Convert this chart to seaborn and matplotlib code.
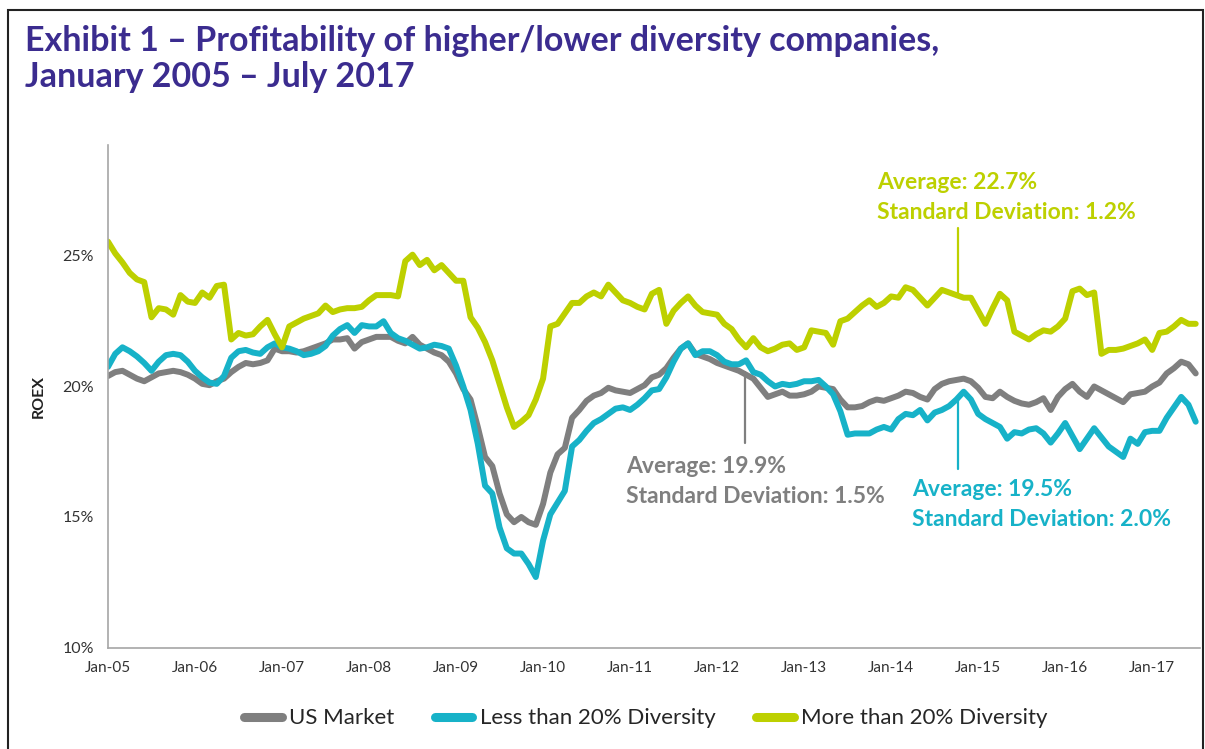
import pandas as pd
import seaborn as sns
import matplotlib.pyplot as plt
from matplotlib.lines import Line2D
from matplotlib.patches import Rectangle

us_market = [
    20.4, 20.55, 20.6, 20.45, 20.3, 20.2, 20.35, 20.5, 20.55, 20.6,
    20.55, 20.45, 20.3, 20.1, 20.05, 20.2, 20.3, 20.55, 20.75, 20.9,
    20.85, 20.9, 21.0, 21.45, 21.35, 21.35, 21.3, 21.35, 21.45, 21.55,
    21.65, 21.8, 21.8, 21.85, 21.45, 21.7, 21.8, 21.9, 21.9, 21.9,
    21.75, 21.65, 21.9, 21.6, 21.45, 21.3, 21.2, 20.95, 20.5, 19.9,
    19.5, 18.45, 17.3, 16.95, 15.9, 15.1, 14.8, 15.0, 14.8, 14.7,
    15.5, 16.7, 17.4, 17.65, 18.8, 19.1, 19.45, 19.65, 19.75, 19.95,
    19.85, 19.8, 19.75, 19.9, 20.05, 20.35, 20.45, 20.7, 21.1, 21.45,
    21.65, 21.25, 21.15, 21.05, 20.9, 20.8, 20.7, 20.6, 20.45, 20.3,
    19.95, 19.6, 19.7, 19.8, 19.65, 19.65, 19.7, 19.8, 20.0, 19.95,
    19.9, 19.5, 19.2, 19.2, 19.25, 19.4, 19.5, 19.45, 19.55, 19.65,
    19.8, 19.75, 19.6, 19.5, 19.9, 20.1, 20.2, 20.25, 20.3, 20.2,
    19.95, 19.6, 19.55, 19.8, 19.6, 19.45, 19.35, 19.3, 19.4, 19.55,
    19.1, 19.6, 19.9, 20.1, 19.8, 19.6, 20.0, 19.85, 19.7, 19.55,
    19.4, 19.7, 19.75, 19.8, 20.0, 20.15, 20.5, 20.7, 20.95, 20.85,
    20.5,
]
less_20 = [
    20.75, 21.25, 21.5, 21.35, 21.15, 20.9, 20.6, 20.95, 21.2, 21.25,
    21.2, 20.95, 20.6, 20.35, 20.15, 20.1, 20.4, 21.1, 21.35, 21.4,
    21.3, 21.25, 21.5, 21.65, 21.5, 21.45, 21.35, 21.2, 21.25, 21.35,
    21.55, 21.95, 22.2, 22.35, 22.05, 22.35, 22.3, 22.3, 22.5, 22.05,
    21.85, 21.75, 21.6, 21.45, 21.5, 21.6, 21.55, 21.45, 20.8, 20.0,
    19.1, 17.8, 16.2, 15.9, 14.6, 13.8, 13.6, 13.6, 13.2, 12.7,
    14.1, 15.1, 15.55, 16.0, 17.7, 17.95, 18.3, 18.6, 18.75, 18.95,
    19.15, 19.2, 19.1, 19.3, 19.55, 19.85, 19.9, 20.35, 20.95, 21.45,
    21.65, 21.2, 21.35, 21.35, 21.2, 20.95, 20.85, 20.85, 21.0, 20.55,
    20.45, 20.2, 20.0, 20.1, 20.05, 20.1, 20.2, 20.2, 20.25, 20.0,
    19.7, 19.05, 18.15, 18.2, 18.2, 18.2, 18.35, 18.45, 18.35, 18.75,
    18.95, 18.9, 19.1, 18.7, 19.0, 19.1, 19.25, 19.5, 19.8, 19.5,
    18.95, 18.75, 18.6, 18.45, 18.0, 18.25, 18.2, 18.35, 18.4, 18.2,
    17.85, 18.2, 18.6, 18.1, 17.6, 18.0, 18.4, 18.05, 17.7, 17.5,
    17.3, 18.0, 17.8, 18.25, 18.3, 18.3, 18.8, 19.2, 19.6, 19.3,
    18.65,
]
more_20 = [
    25.55, 25.1, 24.75, 24.35, 24.1, 24.0, 22.65, 23.0, 22.95, 22.75,
    23.5, 23.25, 23.2, 23.6, 23.4, 23.85, 23.9, 21.8, 22.05, 21.95,
    22.0, 22.3, 22.55, 22.0, 21.5, 22.3, 22.45, 22.6, 22.7, 22.8,
    23.1, 22.85, 22.95, 23.0, 23.0, 23.05, 23.3, 23.5, 23.5, 23.5,
    23.45, 24.8, 25.05, 24.65, 24.85, 24.45, 24.65, 24.35, 24.05, 24.05,
    22.65, 22.25, 21.7, 21.0, 20.1, 19.2, 18.45, 18.65, 18.9, 19.5,
    20.3, 22.3, 22.4, 22.8, 23.2, 23.2, 23.45, 23.6, 23.45, 23.9,
    23.6, 23.3, 23.2, 23.05, 22.95, 23.55, 23.7, 22.4, 22.9, 23.2,
    23.45, 23.1, 22.85, 22.8, 22.75, 22.4, 22.2, 21.8, 21.5, 21.85,
    21.5, 21.35, 21.45, 21.6, 21.65, 21.4, 21.5, 22.15, 22.1, 22.05,
    21.6, 22.5, 22.6, 22.85, 23.1, 23.3, 23.05, 23.2, 23.45, 23.4,
    23.8, 23.7, 23.4, 23.1, 23.4, 23.7, 23.6, 23.5, 23.4, 23.4,
    22.9, 22.4, 23.0, 23.55, 23.3, 22.1, 21.95, 21.8, 22.0, 22.15,
    22.1, 22.3, 22.6, 23.65, 23.75, 23.5, 23.6, 21.25, 21.4, 21.4,
    21.45, 21.55, 21.65, 21.8, 21.4, 22.05, 22.1, 22.3, 22.55, 22.4,
    22.4,
]
series_names = ["US Market", "Less than 20% Diversity", "More than 20% Diversity"]
series_colors = ["#7F7F7F", "#17B2C8", "#BDD000"]
year_labels = ["Jan-05", "Jan-06", "Jan-07", "Jan-08", "Jan-09", "Jan-10", "Jan-11",
               "Jan-12", "Jan-13", "Jan-14", "Jan-15", "Jan-16", "Jan-17"]
y_ticks = [10, 15, 20, 25]
y_tick_labels = ["10%", "15%", "20%", "25%"]

# callouts: series, month of pointer, pointer top/bottom, text
stats = [
    ("US Market", 87.9, 20.55, 17.85, "Average: 19.9%", "Standard Deviation: 1.5%", 71.4, 16.95),
    ("Less than 20% Diversity", 117.2, 19.55, 16.85, "Average: 19.5%", "Standard Deviation: 2.0%", 110.9, 16.07),
    ("More than 20% Diversity", 117.2, 26.07, 23.58, "Average: 22.7%", "Standard Deviation: 1.2%", 106.1, 27.8),
]

df = pd.DataFrame({"month": range(len(us_market)),
                   series_names[0]: us_market,
                   series_names[1]: less_20,
                   series_names[2]: more_20})
long = df.melt(id_vars="month", var_name="series", value_name="roex")
palette = dict(zip(series_names, series_colors))

sns.set_style("white")
plt.rcParams['font.family'] = ['Lato', 'DejaVu Sans']

fig = plt.figure(figsize=(12.05, 7.49), dpi=100)
ax = fig.add_axes([0.0896, 0.1355, 0.9063, 0.6709])

sns.lineplot(data=long, x="month", y="roex", hue="series", palette=palette,
             linewidth=4.3, legend=False, ax=ax)

ax.set_xlim(0, 150.6)
ax.set_ylim(10, 29.25)
ax.set_xticks(range(0, 12 * len(year_labels), 12))
ax.set_xticklabels(year_labels, fontsize=11, color="#333333")
ax.set_yticks(y_ticks)
ax.set_yticklabels(y_tick_labels, fontsize=11.5, color="#333333")
ax.set_xlabel("")
ax.set_ylabel("ROEX", fontsize=11.5, fontweight="bold", color="#222222", labelpad=12)
for side in ["top", "right"]:
    ax.spines[side].set_visible(False)
for side in ["left", "bottom"]:
    ax.spines[side].set_color("#A6A6A6")
    ax.spines[side].set_linewidth(1.2)
ax.tick_params(axis="both", direction="out", length=5, width=1, color="#A6A6A6", pad=5)

for name, xm, ytop, ybot, line1, line2, tx, ty in stats:
    c = palette[name]
    ax.plot([xm, xm], [ytop, ybot], color=c, lw=1.6)
    ax.text(tx, ty, line1, color=c, fontsize=16.5, fontweight="bold", va="center", ha="left")
    ax.text(tx, ty - 1.15, line2, color=c, fontsize=16.5, fontweight="bold", va="center", ha="left")

fig.text(0.021, 1 - 41 / 749, "Exhibit 1 \u2013 Profitability of higher/lower diversity companies,",
         fontsize=24.5, fontweight="bold", color="#3B2C8F", va="center", ha="left")
fig.text(0.021, 1 - 77 / 749, "January 2005 \u2013 July 2017",
         fontsize=24.5, fontweight="bold", color="#3B2C8F", va="center", ha="left")

handles = [Line2D([0], [0], color=c, lw=6.5, solid_capstyle="round") for c in series_colors]
fig.legend(handles, series_names, loc="center", bbox_to_anchor=(0.536, 0.041), ncol=3,
           frameon=False, fontsize=16, handlelength=1.7, handletextpad=0.35, columnspacing=1.8)

fig.patches.append(Rectangle((8 / 1205, -0.05), 1195 / 1205, 1.05 - 10 / 749, transform=fig.transFigure,
                             fill=False, edgecolor="#222222", linewidth=1.5))

fig.savefig("out.png", dpi=100)
